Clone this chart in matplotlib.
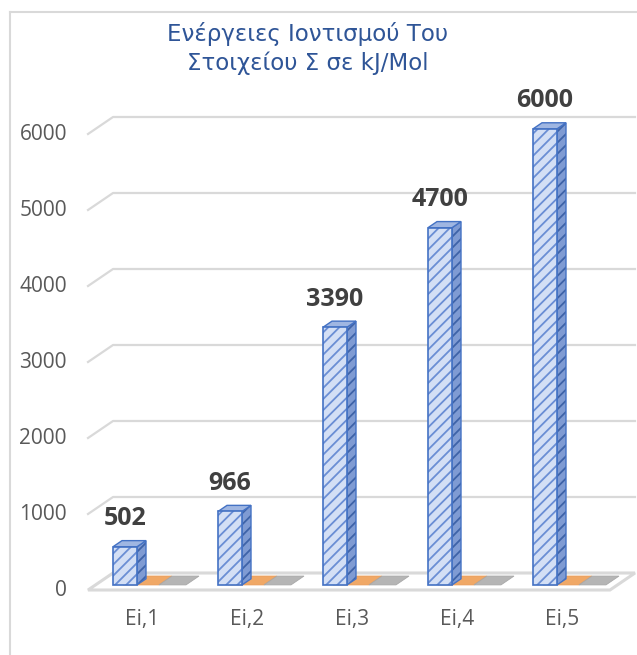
import numpy as np
import matplotlib.pyplot as plt
from matplotlib.patches import Polygon
from matplotlib.lines import Line2D

categories = ['Ei,1', 'Ei,2', 'Ei,3', 'Ei,4', 'Ei,5']
energies = [502, 966, 3390, 4700, 6000]
second_series = [0, 0, 0, 0, 0]
y_ticks = [0, 1000, 2000, 3000, 4000, 5000, 6000]
title = 'Ενέργειες Ιοντισμού Του\nΣτοιχείου Σ σε kJ/Mol'

plt.rcParams['font.family'] = ['Open Sans', 'DejaVu Sans']
plt.rcParams['hatch.linewidth'] = 1.3

W, H = 637, 655
PX_CAT = 105.0          # pixels between categories
PX_VAL = 0.076          # pixels per kJ/mol
X0, Y0 = 140.0, 590.0   # pixel of category 0 / value 0 on the front of the floor

# floor depth (the fake 3d), in data units
DX = 25 / PX_CAT
DY = 17 / PX_VAL


def at(x, v, d):
    return (x + d * DX, v + d * DY)


fig = plt.figure(figsize=(W / 100, H / 100), dpi=100)
ax = fig.add_axes([0, 0, 1, 1])
ax.set_xlim(-X0 / PX_CAT, (W - X0) / PX_CAT)
ax.set_ylim((Y0 - H) / PX_VAL, Y0 / PX_VAL)
ax.axis('off')

grid_col = '#D9D9D9'
xl, xr = -0.495, 4.476

# back wall gridlines with the slanted side piece
for v in y_ticks[1:]:
    pts = [at(xl, v, 0), at(xl, v, 1), at(xr, v, 1)]
    ax.plot([p[0] for p in pts], [p[1] for p in pts], color=grid_col, lw=1.6, zorder=1)

# floor
floor = Polygon([at(xl, 0, 0), at(xr, 0, 0), at(xr, 0, 1), at(xl, 0, 1)],
                closed=True, facecolor='white', edgecolor=grid_col, lw=2.2, zorder=2)
ax.add_patch(floor)

# y tick labels
for v in y_ticks:
    ax.text((67 - X0) / PX_CAT, v, str(v), ha='right', va='center',
            fontsize=15, color='#595959')

# category labels
for i, c in enumerate(categories):
    ax.text(i + 2 / PX_CAT, (Y0 - 620) / PX_VAL, c, ha='center', va='center',
            fontsize=15, color='#595959')

xs = np.arange(len(categories))
BAR_OFF = -34.5 / PX_CAT
BAR_W = 24 / PX_CAT
DF, DB = 0.3, 0.66

# second (zero) series lying flat on the floor
for i, s in enumerate(second_series):
    x0 = xs[i] + BAR_OFF
    xa, xb, xc = x0 + 10 / PX_CAT, x0 + 46 / PX_CAT, x0 + 73 / PX_CAT
    ax.add_patch(Polygon([at(xa, s, 0.3), at(xb, s, 0.3), at(xb, s, 0.82), at(xa, s, 0.82)],
                         closed=True, facecolor='#F0A866', edgecolor='#E99A55', lw=0.6, zorder=3))
    ax.add_patch(Polygon([at(xb, s, 0.3), at(xc, s, 0.3), at(xc, s, 0.82), at(xb, s, 0.82)],
                         closed=True, facecolor='#B5B5B5', edgecolor='#A8A8A8', lw=0.6, zorder=3))

# blue bars: front face
left = xs + BAR_OFF + DF * DX
ax.bar(left, energies, width=BAR_W, bottom=DF * DY, align='edge',
       facecolor='#D3DFF5', edgecolor='#6A8ED4', hatch='///', lw=0, zorder=5)
ax.bar(left, energies, width=BAR_W, bottom=DF * DY, align='edge',
       facecolor='none', edgecolor='#4472C4', lw=1.2, zorder=6)

for i, v in enumerate(energies):
    x0 = xs[i] + BAR_OFF
    x1 = x0 + BAR_W
    side = Polygon([at(x1, 0, DF), at(x1, v, DF), at(x1, v, DB), at(x1, 0, DB)],
                   closed=True, facecolor='#7F9BD3', edgecolor='#3E63A8', hatch='///',
                   lw=0, zorder=4)
    ax.add_patch(side)
    ax.add_patch(Polygon([at(x1, 0, DF), at(x1, v, DF), at(x1, v, DB), at(x1, 0, DB)],
                         closed=True, facecolor='none', edgecolor='#4472C4', lw=1.0, zorder=4.5))
    top = Polygon([at(x0, v, DF), at(x1, v, DF), at(x1, v, DB), at(x0, v, DB)],
                  closed=True, facecolor='#9FB6E2', edgecolor='#4472C4', lw=1.0, zorder=4.5)
    ax.add_patch(top)
    cx, cy = at(x0 + BAR_W / 2, v, DF)
    ax.annotate(str(v), xy=(cx, cy), xytext=(0, 28), textcoords='offset pixels',
                ha='center', va='center', fontsize=18, fontweight='bold',
                color='#404040', zorder=7)

fig.text(308 / W, 1 - 48.5 / H, title, ha='center', va='center', fontsize=16.5,
         color='#2F5597', linespacing=1.3, family=['DejaVu Sans'])

# chart area border
fig.add_artist(Line2D([10 / W, 10 / W], [0, 1 - 12 / H], color=grid_col, lw=1.5))
fig.add_artist(Line2D([10 / W, 1], [1 - 12 / H, 1 - 12 / H], color=grid_col, lw=1.5))

fig.savefig('out.png', dpi=100)
